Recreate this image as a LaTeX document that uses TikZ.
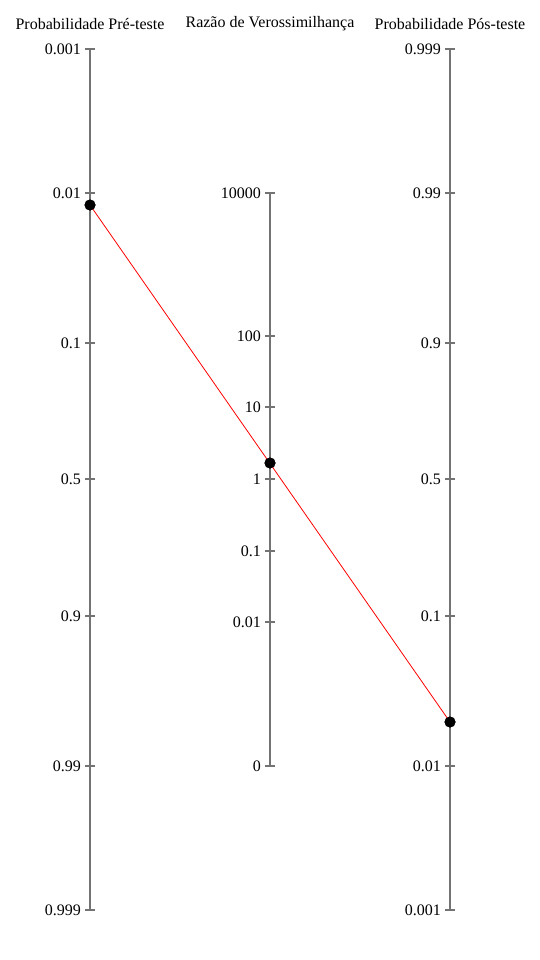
\documentclass[tikz,border=0pt]{standalone}
\usepackage{fontspec}
\setmainfont{Liberation Serif}
\begin{document}
\begin{tikzpicture}[x=1pt,y=-1pt,
  axisline/.style={draw=black!55,line width=1.2pt},
  tickmark/.style={draw=black!55,line width=1.2pt},
  ticklabel/.style={anchor=east,inner sep=0pt,font=\fontsize{16}{18}\selectfont},
  titlelabel/.style={anchor=center,inner sep=0pt,font=\fontsize{16}{18}\selectfont},
  dotmark/.style={circle,fill=black,inner sep=0pt,minimum size=11pt},
  connector/.style={draw=red,line width=0.8pt}]
\useasboundingbox (0,0) rectangle (540,960);
\node[titlelabel] (t1) at (90,24) {Probabilidade Pré-teste};
\node[titlelabel] (t2) at (270,24) {Razão de Verossimilhança};
\node[titlelabel] (t3) at (450,24) {Probabilidade Pós-teste};
% axes
\coordinate (a1t) at (90,49); \coordinate (a1b) at (90,910);
\coordinate (a2t) at (270,193); \coordinate (a2b) at (270,766);
\coordinate (a3t) at (450,49); \coordinate (a3b) at (450,910);
\draw[axisline] (a1t) -- (a1b);
\draw[axisline] (a2t) -- (a2b);
\draw[axisline] (a3t) -- (a3b);
% left ticks
\foreach \y/\l in {49/0.001,193/0.01,343/0.1,479/0.5,616/0.9,766/0.99,910/0.999}{
  \draw[tickmark] (85,\y) -- (95,\y);
  \node[ticklabel] at (81,\y) {\l};
}
\foreach \y/\l in {193/10000,336/100,407/10,479/1,551/0.1,622/0.01,766/0}{
  \draw[tickmark] (265,\y) -- (275,\y);
  \node[ticklabel] at (261,\y) {\l};
}
\foreach \y/\l in {49/0.999,193/0.99,343/0.9,479/0.5,616/0.1,766/0.01,910/0.001}{
  \draw[tickmark] (445,\y) -- (455,\y);
  \node[ticklabel] at (441,\y) {\l};
}
\node[dotmark] (d1) at (90,205) {};
\node[dotmark] (d2) at (270,463) {};
\node[dotmark] (d3) at (450,722) {};
\draw[connector] (d1.center) -- (d3.center);
\node[dotmark] at (d1) {};
\node[dotmark] at (d2) {};
\node[dotmark] at (d3) {};
\end{tikzpicture}
\end{document}
